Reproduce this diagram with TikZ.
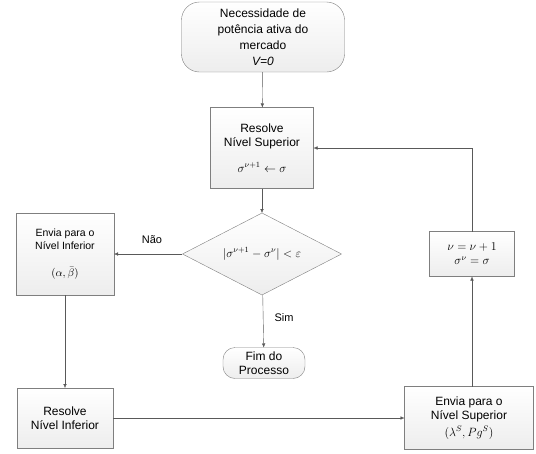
\documentclass[tikz,border=0pt]{standalone}
\usepackage{fontspec}
\setmainfont{Liberation Sans}
\usetikzlibrary{positioning,shapes.geometric,arrows.meta}
\usepackage{xcolor}
\definecolor{boxline}{HTML}{7F7F7F}
\definecolor{arrowline}{HTML}{595959}

\begin{document}
\begin{tikzpicture}[
    x=1pt, y=-1pt,
 mybox/.style = {
        draw=boxline, rectangle, align=center,
        top color=white, bottom color=gray!14,
        font=\fontsize{12}{14}\selectfont, inner sep=1pt, outer sep=0pt},
 myterm/.style = {
        draw=boxline, rectangle, rounded corners=14pt, align=center,
        top color=white, bottom color=gray!14,
        font=\fontsize{12}{14}\selectfont, inner sep=0pt, outer sep=0pt},
 mydec/.style = {
        draw=boxline, diamond, aspect=1.95, align=center,
        top color=white, bottom color=gray!14,
        font=\fontsize{12}{14}\selectfont, inner sep=0pt, outer sep=0pt},
 arrow/.style = {draw=arrowline, -{Latex[length=4pt,width=3.5pt]}},
 mylabel/.style = {font=\fontsize{11}{13}\selectfont}
                    ]
\useasboundingbox (0,0) rectangle (536,453);
% the column in the center
\node (start) [myterm, rounded corners=18pt, font=\fontsize{12}{16}\selectfont,
               minimum width=163pt, minimum height=70pt] at (263,37)
    {Necessidade de\\potência ativa do\\mercado\\\textit{V=0}};
\node (resS) [mybox, minimum width=103pt, minimum height=81pt] at (262,148)
    {Resolve\\Nível Superior\\[12pt]$\sigma^{\nu+1}\leftarrow\sigma$};
\node (dec) [mydec, minimum width=159pt, minimum height=82pt] at (262,254)
    {$|\sigma^{\nu+1}-\sigma^{\nu}|<\varepsilon$};
\node (fim) [myterm, rounded corners=12pt, minimum width=82pt, minimum height=31pt] at (264,363)
    {Fim do\\Processo};
% the nodes on the left
\node (envI) [mybox, font=\fontsize{10.5}{13}\selectfont, minimum width=98pt, minimum height=82pt] at (65,254)
    {Envia para o\\Nível Inferior\\[14pt]$(\alpha,\bar{\beta})$};
\node (resI) [mybox, minimum width=96pt, minimum height=60pt] at (65,418)
    {Resolve\\Nível Inferior};
% the nodes on the right
\node (envS) [mybox, minimum width=129pt, minimum height=63pt] at (469,418)
    {Envia para o\\Nível Superior\\[3pt]$(\lambda^{S},Pg^{S})$};
\node (upd) [mybox, minimum width=85pt, minimum height=45pt] at (472,254)
    {$\nu=\nu+1$\\$\sigma^{\nu}=\sigma$};
% the connectors
\draw[arrow] (start) -- (resS);
\draw[arrow] (resS) -- (dec);
\draw[arrow] (dec) -- (fim);
\draw[arrow] (dec) -- (envI);
\draw[arrow] (envI) -- (resI);
\draw[arrow] (resI) -- (envS);
\draw[arrow] (envS.north -| upd) -- (upd);
\draw[arrow] (upd) |- (resS);
% the labels on the branches
\node (nao) [mylabel] at (152,240) {Não};
\node (sim) [mylabel] at (284,318) {Sim};
\end{tikzpicture}
\end{document}
